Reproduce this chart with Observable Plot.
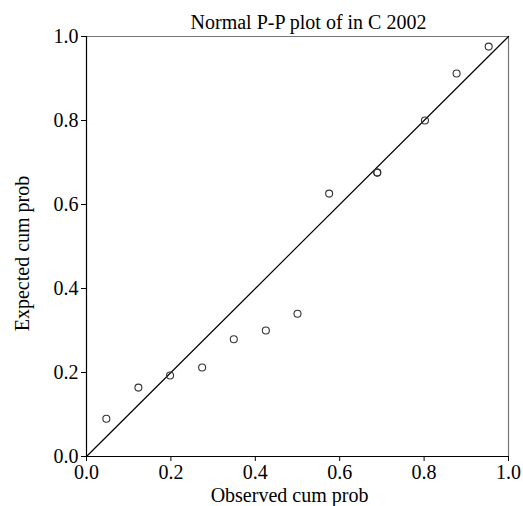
<!DOCTYPE html>
<html>
<head>
<meta charset="utf-8">
<script src="https://cdn.jsdelivr.net/npm/d3@7"></script>
<script src="https://cdn.jsdelivr.net/npm/@observablehq/plot@0.6"></script>
<style>
  html, body { margin: 0; padding: 0; background: #fff; }
</style>
</head>
<body>
<div id="chart"></div>
<script>
const title = "Normal P-P plot of in C 2002";
const xLabel = "Observed cum prob";
const yLabel = "Expected cum prob";
const observed = [0.047, 0.123, 0.198, 0.274, 0.349, 0.425, 0.500, 0.575, 0.689, 0.689, 0.802, 0.877, 0.953];
const expected = [0.090, 0.164, 0.193, 0.212, 0.279, 0.300, 0.340, 0.626, 0.676, 0.676, 0.800, 0.912, 0.976];
const tickValues = [0, 0.2, 0.4, 0.6, 0.8, 1.0];
const diagonal = [0, 1];

const points = observed.map((o, i) => ({x: o, y: expected[i]}));
const diag = diagonal.map(v => ({x: v, y: v}));
const serif = "'Liberation Serif', 'Times New Roman', serif";

const chart = Plot.plot({
  width: 523,
  height: 506,
  marginLeft: 86,
  marginRight: 15,
  marginTop: 36,
  marginBottom: 50,
  style: {fontFamily: serif, fontSize: "20px", color: "#000", background: "#fff"},
  x: {domain: [0, 1]},
  y: {domain: [0, 1]},
  marks: [
    Plot.ruleY([1], {stroke: "#777", strokeWidth: 1.2}),
    Plot.ruleX([1], {stroke: "#777", strokeWidth: 1.2}),
    Plot.line(diag, {x: "x", y: "y", stroke: "#000", strokeWidth: 1.2}),
    Plot.dot(points, {x: "x", y: "y", r: 3.5, stroke: "#333", strokeWidth: 1.1, fill: "none"}),
    Plot.axisX({ticks: tickValues, tickFormat: d3.format(".1f"), tickSize: 5, tickPadding: 3, fontSize: 20,
      label: null, stroke: "#000"}),
    Plot.axisY({ticks: tickValues, tickFormat: d3.format(".1f"), tickSize: 5, tickPadding: 3, fontSize: 20,
      label: null, stroke: "#000"}),
    Plot.ruleX([0], {stroke: "#000", strokeWidth: 1.2}),
    Plot.ruleY([0], {stroke: "#000", strokeWidth: 1.2}),
    Plot.text([title], {frameAnchor: "top", textAnchor: "middle", lineAnchor: "middle", dx: 11, dy: -13.5, fontSize: 20, fill: "#000"}),
    Plot.text([xLabel], {frameAnchor: "bottom", textAnchor: "middle", lineAnchor: "middle", dx: -8, dy: 39, fontSize: 20, fill: "#000"}),
    Plot.text([yLabel], {frameAnchor: "left", textAnchor: "middle", lineAnchor: "middle", rotate: -90, dx: -63.5, dy: 7, fontSize: 20, fill: "#000"})
  ]
});
document.getElementById("chart").appendChild(chart);
</script>
</body>
</html>
